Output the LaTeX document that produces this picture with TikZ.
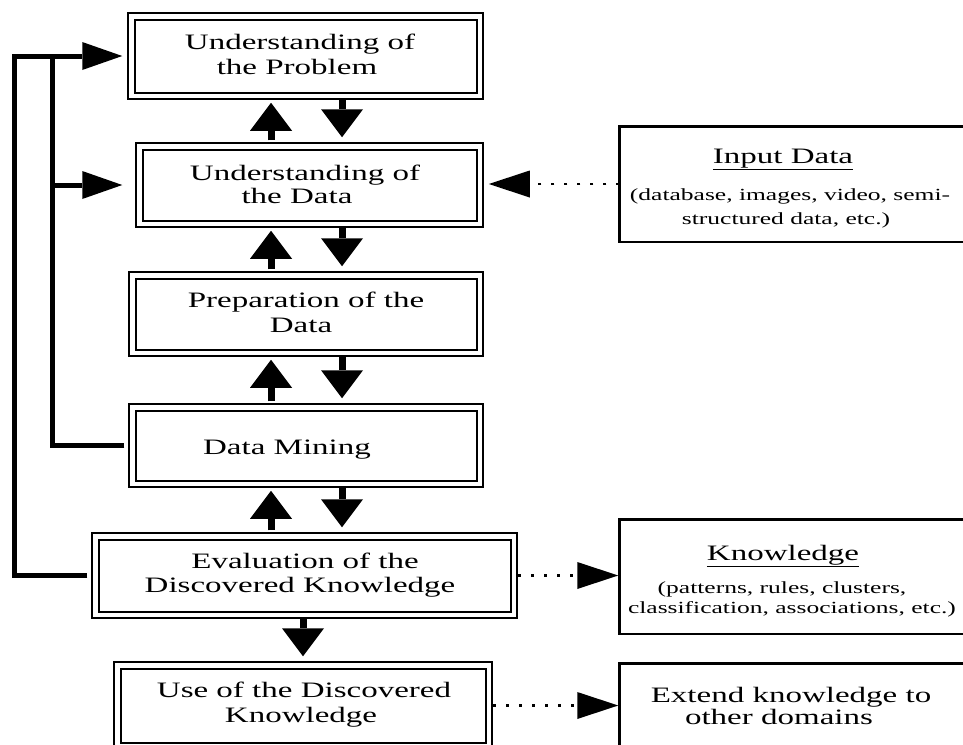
\documentclass[tikz,border=0pt]{standalone}
\usepackage{fontspec}
\setmainfont{Liberation Serif}[FakeStretch=1.5]
\usetikzlibrary{arrows.meta,calc}
\tikzset{
  dbox/.style={draw, double, line width=2pt, double distance=4.5pt, rectangle, inner sep=0pt, outer sep=0pt},
  sbox/.style={draw, line width=2.5pt, rectangle, inner sep=0pt, outer sep=0pt},
  ttl/.style={anchor=base, inner sep=0pt, font=\fontsize{22}{24}\selectfont},
  sub/.style={anchor=base, inner sep=0pt, font=\fontsize{17}{20}\selectfont},
  blk/.style={line width=7pt, -{Triangle[length=28pt,width=42pt,line width=0pt]}},
  fb/.style={line width=5pt, line join=miter},
  fbar/.style={fb, -{Triangle[length=40pt,width=28pt,line width=0pt]}},
  dotar/.style={line width=2.5pt, dash pattern=on 3pt off 10pt, -{Triangle[length=41pt,width=27pt,line width=0pt]}}
}
\begin{document}
\begin{tikzpicture}[x=1pt,y=-1pt]
\useasboundingbox[fill=white] (0,0) rectangle (963,744);
% main boxes
\node[dbox, minimum width=348.5pt, minimum height=79.5pt] (b1) at (305.5,56) {};
\node[dbox, minimum width=340.5pt, minimum height=77.5pt] (b2) at (309.5,185) {};
\node[dbox, minimum width=347.5pt, minimum height=77.5pt] (b3) at (306,314) {};
\node[dbox, minimum width=347.5pt, minimum height=76.5pt] (b4) at (306,445.5) {};
\node[dbox, minimum width=418.5pt, minimum height=78.5pt] (b5) at (304.5,575.5) {};
\node[dbox, minimum width=371.5pt, minimum height=80.5pt] (b6) at (303,705.5) {};
% right boxes
\node[sbox, minimum width=389.5pt, minimum height=115.5pt] (inp) at (814,184) {};
\node[sbox, minimum width=389.5pt, minimum height=114.5pt] (kn) at (814,576.5) {};
\node[sbox, minimum width=389.5pt, minimum height=115.5pt] (ext) at (814,721) {};
% texts
\node[ttl] (t1a) at (300,49) {Understanding of};
\node[ttl] (t1b) at (297,74) {the Problem};
\node[ttl] (t2a) at (305,180) {Understanding of};
\node[ttl] (t2b) at (297,203) {the Data};
\node[ttl] (t3a) at (306,307) {Preparation of the};
\node[ttl] (t3b) at (301,332) {Data};
\node[ttl] (t4a) at (287,454) {Data Mining};
\node[ttl] (t5a) at (305,568) {Evaluation of the};
\node[ttl] (t5b) at (300,592) {Discovered Knowledge};
\node[ttl] (t6a) at (304,697) {Use of the Discovered};
\node[ttl] (t6b) at (301,722) {Knowledge};
\node[ttl] (tia) at (783,163) {\underline{Input Data}};
\node[sub] (tib) at (790,200) {(database, images, video, semi-};
\node[sub] (tic) at (786,224) {structured data, etc.)};
\node[ttl] (tka) at (783,560) {\underline{Knowledge}};
\node[sub] (tkb) at (782,593) {(patterns, rules, clusters,};
\node[sub] (tkc) at (792,613) {classification, associations, etc.)};
\node[ttl] (tea) at (791,702) {Extend knowledge to};
\node[ttl] (teb) at (779,724) {other domains};
% arrow columns
\coordinate (ux) at (271,0);
\coordinate (dx) at (342,0);
\coordinate (dx5) at (303,0);
\coordinate (sp1) at (14,0);
\coordinate (sp2) at (52,0);
% up/down block arrows
\foreach \a/\b in {b1/b2,b2/b3,b3/b4,b4/b5}{
  \draw[blk] ($(\b.north -| ux)+(0,-6)$) -- ($(\a.south -| ux)+(0,7)$);
  \draw[blk] ($(\a.south -| dx)+(0,4)$) -- ($(\b.north -| dx)+(0,-9)$);
}
\draw[blk] ($(b5.south -| dx5)+(0,4)$) -- ($(b6.north -| dx5)+(0,-9)$);
% feedback lines
\draw[fbar] ($(b5.west)+(-8,0)$) -- (b5.west -| sp1) |- ($(b1.west)+(-9,0)$);
\draw[fb] ($(b4.west)+(-8,0)$) -| (sp2 |- b1.west);
\draw[fbar] (sp2 |- b2.west) -- ($(b2.west)+(-17,0)$);
% dotted arrows
\draw[dotar] (inp.west) -- ($(b2.east |- inp.west)+(9,0)$);
\draw[dotar] ($(b5.east)+(4.5,0)$) -- ($(kn.west |- b5.east)+(-1,0)$);
\draw[dotar] ($(b6.east)+(4.5,0)$) -- ($(ext.west |- b6.east)+(-1,0)$);
\end{tikzpicture}
\end{document}
